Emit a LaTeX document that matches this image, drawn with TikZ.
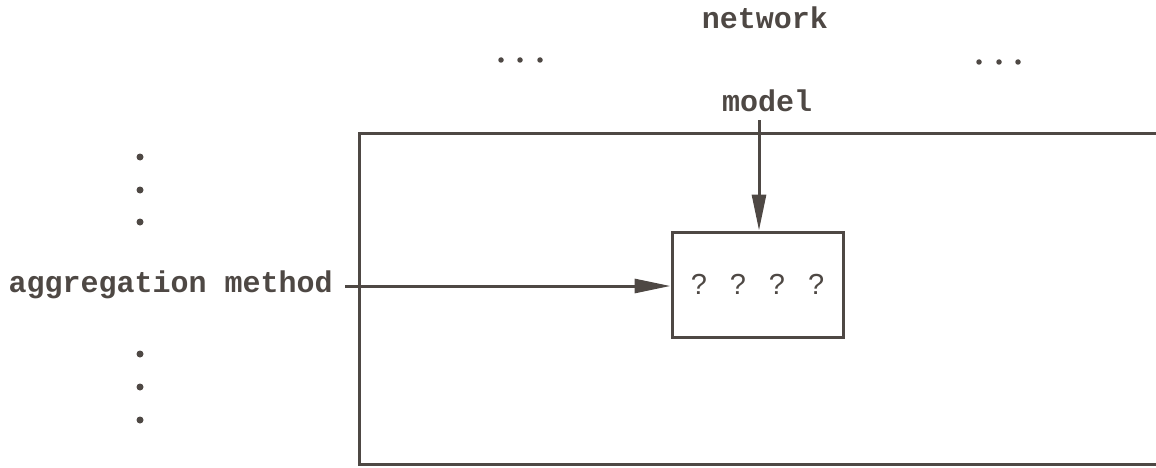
\documentclass[tikz,border=0pt]{standalone}
\usepackage{fontspec}
\setmainfont{Liberation Serif}
\newfontfamily\typew{Liberation Mono}
\newfontfamily\qfont{Liberation Sans}
\usetikzlibrary{arrows.meta}
\definecolor{ink}{RGB}{78,72,68}
\begin{document}
\begin{tikzpicture}[x=1pt,y=-1pt,
  lbl/.style={text=ink, font=\typew\bfseries\fontsize{30}{36}\selectfont, inner sep=0pt},
  line/.style={draw=ink, line width=3pt},
  arr/.style={line, -{Triangle[length=36pt,width=14pt]}},
  bigdot/.style={circle, fill=ink, inner sep=0pt, minimum size=7pt},
  smalldot/.style={circle, fill=ink, inner sep=0pt, minimum size=5.5pt},
  qbox/.style={line, rectangle, minimum width=171pt, minimum height=105pt, inner sep=0pt,
    text=ink, font=\qfont\fontsize{29}{34}\selectfont}]
\useasboundingbox (0,0) rectangle (1156,468);
% frame (open on the right)
\coordinate (ftr) at (1156,134);
\coordinate (ftl) at (359,134);
\coordinate (fbl) at (359,464);
\coordinate (fbr) at (1156,464);
\draw[line, line join=miter] (ftr) -- (ftl) -- (fbl) -- (fbr);
% labels
\node[lbl, anchor=base] (net) at (765,29) {network};
\node[lbl, anchor=base] (model) at (767,112) {model};
\node[lbl, anchor=base east] (agg) at (333,292) {aggregation method};
% inner box
\node[qbox] (box) at (757.5,284.5) {?\hspace{23pt}?\hspace{23pt}?\hspace{23pt}?};
% connectors
\coordinate (vx) at (759,0);
\coordinate (hy) at (0,286);
\draw[arr] ([yshift=-8pt]model.south -| vx) -- (box.north -| vx);
\draw[arr] ([xshift=12pt]agg.east |- hy) -- (box.west |- hy);
% horizontal ellipses
\node[smalldot] (l1) at (501,60) {};
\node[smalldot] (l2) at (520,60) {};
\node[smalldot] (l3) at (540,60) {};
\node[smalldot] (r1) at (979,62) {};
\node[smalldot] (r2) at (999,62) {};
\node[smalldot] (r3) at (1018,62) {};
% vertical ellipses
\node[bigdot] (u1) at (140,157) {};
\node[bigdot] (u2) at (140,190) {};
\node[bigdot] (u3) at (140,222) {};
\node[bigdot] (d1) at (140,354) {};
\node[bigdot] (d2) at (140,387) {};
\node[bigdot] (d3) at (140,420) {};
\end{tikzpicture}
\end{document}
